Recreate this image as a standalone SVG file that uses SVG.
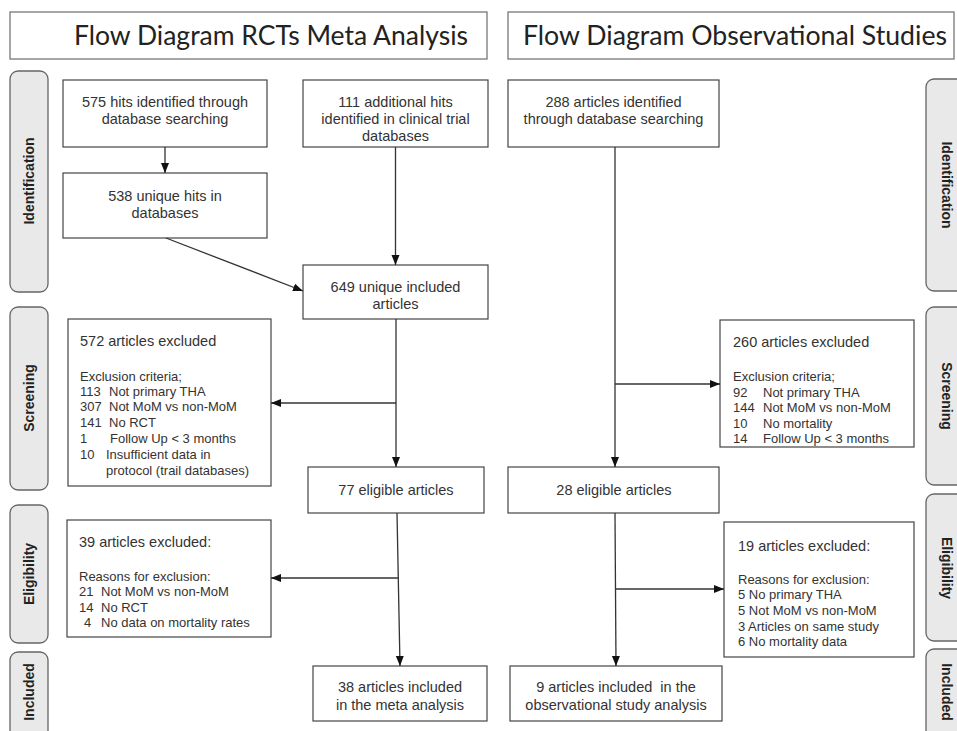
<svg xmlns="http://www.w3.org/2000/svg" width="957" height="731" viewBox="0 0 957 731">
<style>
.bg{fill:#ffffff}
.title rect{fill:#ffffff;stroke:#777;stroke-width:1.3}
.title text{font-family:Lato,"Open Sans",sans-serif;font-size:26px;fill:#222}
.phase rect{fill:#e9e9e9;stroke:#666;stroke-width:1.3}
.phase text{font-family:"Liberation Sans",Arial,sans-serif;font-size:14px;font-weight:bold;fill:#222;text-anchor:middle}
.box rect{fill:#ffffff;stroke:#444;stroke-width:1.2}
.box text{font-family:"Liberation Sans",Arial,sans-serif;fill:#333}
.c{text-anchor:middle;font-size:14.5px}
.h{font-size:14.5px}
.l{font-size:13px}
.conn line{stroke:#333;stroke-width:1.3;fill:none}
</style>
<defs>
<marker id="arr" markerUnits="userSpaceOnUse" markerWidth="10" markerHeight="10" viewBox="0 0 10 10" refX="10" refY="5" orient="auto">
<path d="M0,1 L10,5 L0,9 Z" fill="#111"/>
</marker>
</defs>
<rect class="bg" x="0" y="0" width="957" height="731"/>

<g id="title-left" class="title">
<rect x="10" y="12" width="477" height="47"/>
<text x="74" y="45" textLength="394" lengthAdjust="spacingAndGlyphs">Flow Diagram RCTs Meta Analysis</text>
</g>
<g id="title-right" class="title">
<rect x="508" y="12" width="446" height="47"/>
<text x="523" y="45" textLength="424" lengthAdjust="spacingAndGlyphs">Flow Diagram Observational Studies</text>
</g>

<g id="phase-left-identification" class="phase">
<rect x="10" y="71" width="38" height="221" rx="8"/>
<text transform="rotate(-90 29 181)" x="29" y="186">Identification</text>
</g>
<g id="phase-left-screening" class="phase">
<rect x="10" y="307" width="38" height="183" rx="8"/>
<text transform="rotate(-90 29 398)" x="29" y="403">Screening</text>
</g>
<g id="phase-left-eligibility" class="phase">
<rect x="10" y="505" width="38" height="138" rx="8"/>
<text transform="rotate(-90 29 574)" x="29" y="579">Eligibility</text>
</g>
<g id="phase-left-included" class="phase">
<rect x="10" y="652" width="38" height="90" rx="8"/>
<text transform="rotate(-90 29 692)" x="29" y="697">Included</text>
</g>

<g id="phase-right-identification" class="phase">
<rect x="926" y="79" width="42" height="212" rx="8"/>
<text transform="rotate(90 947 185)" x="947" y="190">Identification</text>
</g>
<g id="phase-right-screening" class="phase">
<rect x="926" y="307" width="42" height="178" rx="8"/>
<text transform="rotate(90 947 396)" x="947" y="401">Screening</text>
</g>
<g id="phase-right-eligibility" class="phase">
<rect x="926" y="494" width="42" height="147" rx="8"/>
<text transform="rotate(90 947 568)" x="947" y="573">Eligibility</text>
</g>
<g id="phase-right-included" class="phase">
<rect x="926" y="649" width="42" height="95" rx="8"/>
<text transform="rotate(90 947 692)" x="947" y="697">Included</text>
</g>

<g id="box-575" class="box">
<rect x="63" y="80" width="204" height="67"/>
<text class="c" x="165" y="107">575 hits identified through</text>
<text class="c" x="165" y="124">database searching</text>
</g>
<g id="box-111" class="box">
<rect x="303" y="80" width="185" height="67"/>
<text class="c" x="395.5" y="107">111 additional hits</text>
<text class="c" x="395.5" y="124">identified in clinical trial</text>
<text class="c" x="395.5" y="141">databases</text>
</g>
<g id="box-538" class="box">
<rect x="63" y="173" width="204" height="65"/>
<text class="c" x="165" y="201">538 unique hits in</text>
<text class="c" x="165" y="218">databases</text>
</g>
<g id="box-649" class="box">
<rect x="303" y="265" width="185" height="54"/>
<text class="c" x="395.5" y="292">649 unique included</text>
<text class="c" x="395.5" y="309">articles</text>
</g>
<g id="box-572" class="box">
<rect x="68" y="319" width="203" height="167"/>
<text class="h" x="80" y="346">572 articles excluded</text>
<text class="l" x="80" y="381">Exclusion criteria;</text>
<text class="l" x="80" y="396">113</text><text class="l" x="109" y="396">Not primary THA</text>
<text class="l" x="80" y="411">307</text><text class="l" x="109" y="411">Not MoM vs non-MoM</text>
<text class="l" x="80" y="427">141</text><text class="l" x="109" y="427">No RCT</text>
<text class="l" x="80" y="443">1</text><text class="l" x="110" y="443">Follow Up &lt; 3 months</text>
<text class="l" x="80" y="459">10</text><text class="l" x="106" y="459">Insufficient data in</text>
<text class="l" x="106" y="475">protocol (trail databases)</text>
</g>
<g id="box-77" class="box">
<rect x="308" y="467" width="176" height="46"/>
<text class="c" x="396" y="495">77 eligible articles</text>
</g>
<g id="box-39" class="box">
<rect x="67" y="520" width="204" height="117"/>
<text class="h" x="79" y="547">39 articles excluded:</text>
<text class="l" x="79" y="581">Reasons for exclusion:</text>
<text class="l" x="79" y="596">21</text><text class="l" x="101" y="596">Not MoM vs non-MoM</text>
<text class="l" x="79" y="612">14</text><text class="l" x="101" y="612">No RCT</text>
<text class="l" x="84" y="627">4</text><text class="l" x="101" y="627">No data on mortality rates</text>
</g>
<g id="box-38" class="box">
<rect x="313" y="666" width="174" height="55"/>
<text class="c" x="400" y="692">38 articles included</text>
<text class="c" x="400" y="710">in the meta analysis</text>
</g>

<g id="box-288" class="box">
<rect x="508" y="80" width="211" height="67"/>
<text class="c" x="613.5" y="107">288 articles identified</text>
<text class="c" x="613.5" y="124">through database searching</text>
</g>
<g id="box-260" class="box">
<rect x="720" y="320" width="194" height="127"/>
<text class="h" x="733" y="347">260 articles excluded</text>
<text class="l" x="733" y="381">Exclusion criteria;</text>
<text class="l" x="733" y="397">92</text><text class="l" x="763" y="397">Not primary THA</text>
<text class="l" x="733" y="412">144</text><text class="l" x="763" y="412">Not MoM vs non-MoM</text>
<text class="l" x="733" y="428">10</text><text class="l" x="763" y="428">No mortality</text>
<text class="l" x="733" y="443">14</text><text class="l" x="763" y="443">Follow Up &lt; 3 months</text>
</g>
<g id="box-28" class="box">
<rect x="508" y="467" width="211" height="46"/>
<text class="c" x="614" y="495">28 eligible articles</text>
</g>
<g id="box-19" class="box">
<rect x="724" y="522" width="190" height="135"/>
<text class="h" x="738" y="551">19 articles excluded:</text>
<text class="l" x="738" y="584">Reasons for exclusion:</text>
<text class="l" x="738" y="599">5 No primary THA</text>
<text class="l" x="738" y="615">5 Not MoM vs non-MoM</text>
<text class="l" x="738" y="631">3 Articles on same study</text>
<text class="l" x="738" y="646">6 No mortality data</text>
</g>
<g id="box-9" class="box">
<rect x="510" y="666" width="212" height="55"/>
<text class="c" x="616" y="692">9 articles included&#160; in the</text>
<text class="c" x="616" y="710">observational study analysis</text>
</g>

<g id="connectors" class="conn">
<line x1="165" y1="147" x2="165" y2="173" marker-end="url(#arr)"/>
<line x1="166" y1="238" x2="303" y2="291" marker-end="url(#arr)"/>
<line x1="395.5" y1="147" x2="395.5" y2="265" marker-end="url(#arr)"/>
<line x1="396" y1="319" x2="396" y2="467" marker-end="url(#arr)"/>
<line x1="396" y1="403" x2="271" y2="403" marker-end="url(#arr)"/>
<line x1="397" y1="513" x2="400" y2="666" marker-end="url(#arr)"/>
<line x1="398.3" y1="578" x2="271" y2="578" marker-end="url(#arr)"/>
<line x1="615" y1="147" x2="615" y2="467" marker-end="url(#arr)"/>
<line x1="615" y1="384" x2="720" y2="384" marker-end="url(#arr)"/>
<line x1="615" y1="513" x2="616" y2="666" marker-end="url(#arr)"/>
<line x1="615.5" y1="589" x2="724" y2="589" marker-end="url(#arr)"/>
</g>
</svg>
